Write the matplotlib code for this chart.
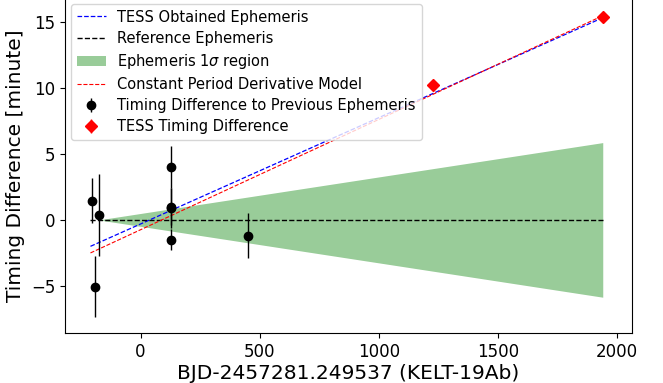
import numpy as np
import matplotlib
matplotlib.use("Agg")
import matplotlib.pyplot as plt

# Timing differences against the previous ephemeris (minutes)
prev_x = [-203, -175, -189, 129, 129, 127, 129, 451]
prev_y = [1.46, 0.35, -5.05, 4.0, 0.9, 1.0, -1.5, -1.2]
prev_err = [1.7, 3.1, 2.3, 1.6, 1.5, 1.4, 0.8, 1.7]

# TESS timing differences
tess_x = [1225, 1939]
tess_y = [10.2, 15.35]
tess_err = [0.15, 0.15]

# Ephemeris lines: endpoints (x, y)
line_x = [-210, 1939]
tess_line_y = [-2.0, 15.3]
model_line_y = [-2.5, 15.45]
ref_line_y = [0.0, 0.0]

# 1-sigma band: half width grows from the tip to the end
band_x = [-176, 1939]
band_half = [0.0, 5.85]

fig = plt.figure(figsize=(6.63, 3.83), dpi=100)
ax = fig.add_axes([0.098, 0.1305, 0.855, 0.875])

ax.plot(line_x, tess_line_y, "b--", lw=0.9, label="TESS Obtained Ephemeris")
ax.plot(line_x, ref_line_y, "k--", lw=1.0, label="Reference Ephemeris")
bh = np.array(band_half)
ax.fill_between(band_x, -bh, bh, color="green", alpha=0.4, lw=0,
                label=r"Ephemeris 1$\sigma$ region")
ax.plot(line_x, model_line_y, "r--", lw=0.8, label="Constant Period Derivative Model")
ax.errorbar(prev_x, prev_y, yerr=prev_err, fmt="o", color="black", ms=6,
            elinewidth=1, label="Timing Difference to Previous Ephemeris")
ax.errorbar(tess_x, tess_y, yerr=tess_err, fmt="D", color="red", ms=6,
            elinewidth=1, label="TESS Timing Difference")

ax.set_xlim(-317, 2061)
ax.set_ylim(-8.56, 16.8)
ax.set_xticks([0, 500, 1000, 1500, 2000])
ax.set_yticks([-5, 0, 5, 10, 15])
ax.tick_params(labelsize=12)
ax.set_xlabel("BJD-2457281.249537 (KELT-19Ab)", fontsize=14.5, labelpad=2)
ax.set_ylabel("Timing Difference [minute]", fontsize=14.5)

ax.legend(loc="upper left", fontsize=10.5, handlelength=2.0,
          borderaxespad=0.4, labelspacing=0.42)

fig.savefig("out.png", dpi=100)
